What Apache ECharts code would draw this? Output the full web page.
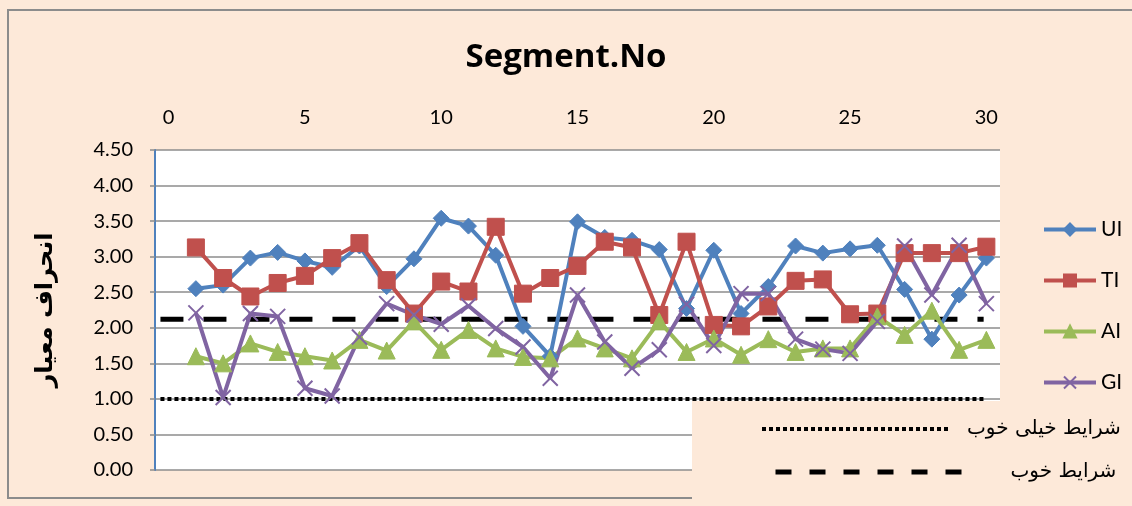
<!DOCTYPE html>
<html>
<head>
<meta charset="utf-8">
<script src="https://cdn.jsdelivr.net/npm/echarts@6/dist/echarts.min.js"></script>
<style>html,body{margin:0;padding:0;background:#fde9d9;}#c{width:1132px;height:506px;}</style>
</head>
<body>
<div id="c"></div>
<script>
var segments = [1,2,3,4,5,6,7,8,9,10,11,12,13,14,15,16,17,18,19,20,21,22,23,24,25,26,27,28,29,30];
var UI = [2.55,2.60,2.98,3.06,2.94,2.85,3.15,2.58,2.97,3.54,3.43,3.02,2.02,1.60,3.49,3.27,3.23,3.10,2.27,3.09,2.20,2.58,3.15,3.05,3.11,3.16,2.54,1.84,2.46,2.98];
var TI = [3.13,2.70,2.44,2.63,2.73,2.98,3.19,2.67,2.20,2.65,2.51,3.42,2.48,2.70,2.87,3.21,3.13,2.18,3.21,2.04,2.02,2.30,2.66,2.68,2.19,2.20,3.05,3.05,3.05,3.14];
var AI = [1.60,1.50,1.78,1.66,1.60,1.54,1.83,1.68,2.09,1.69,1.97,1.71,1.59,1.57,1.85,1.71,1.57,2.09,1.66,1.85,1.62,1.84,1.66,1.71,1.71,2.16,1.90,2.24,1.69,1.83];
var GI = [2.21,1.02,2.20,2.16,1.15,1.04,1.87,2.34,2.18,2.05,2.31,1.99,1.73,1.29,2.46,1.80,1.43,1.69,2.33,1.75,2.48,2.48,1.84,1.70,1.64,2.09,3.15,2.46,3.16,2.34];
var xTicks = [0,5,10,15,20,25,30];
var veryGoodName = 'شرایط خیلی خوب';
var goodName = 'شرایط خوب';
var veryGoodLevel = 1.00;
var goodLevel = 2.12;
var refXStart = -0.3, refXEnd = 29.9;
var yAxisTitle = 'انحراف معیار';
var chartTitle = 'Segment.No';

function pairs(vals){ return segments.map(function(s,i){ return [s, vals[i]]; }); }

var crossPath = 'path://M0,0L10,10M10,0L0,10';
var chart = echarts.init(document.getElementById('c'));
var numFont = 'Lato';
function mk(name, vals, color, symbol, size, extra){
  var s = {
    name: name, type: 'line', data: pairs(vals),
    symbol: symbol, symbolSize: size,
    lineStyle: {color: color, width: 4},
    itemStyle: {color: color, borderColor: color, borderWidth: 1},
    emphasis: {disabled: true}, animation: false, z: 3
  };
  if (extra) { for (var k in extra) s[k] = extra[k]; }
  return s;
}
var option = {
  backgroundColor: '#fde9d9',
  animation: false,
  title: {
    text: chartTitle, left: 'center', top: 36,
    textStyle: {fontFamily: 'Open Sans', fontWeight: 'bold', fontSize: 33, color: '#000'}
  },
  grid: {left: 155, right: 132, top: 150, bottom: 36, show: true, backgroundColor: '#ffffff', borderWidth: 0},
  xAxis: {
    type: 'value', position: 'top', min: -0.5, max: 30.5,
    axisLine: {show: false}, axisTick: {show: false}, splitLine: {show: false},
    axisLabel: {customValues: xTicks, margin: 22, color: '#000', fontFamily: numFont, fontSize: 20}
  },
  yAxis: {
    type: 'value', min: 0, max: 4.5, interval: 0.5,
    name: yAxisTitle, nameLocation: 'middle', nameRotate: 90, nameGap: 97,
    nameTextStyle: {fontFamily: 'DejaVu Sans', fontWeight: 'bold', fontSize: 24, color: '#000'},
    axisLine: {show: true, onZero: false, lineStyle: {color: '#4f81bd', width: 2}},
    axisTick: {show: true, length: 5, lineStyle: {color: '#8c8c8c', width: 1.5}},
    splitLine: {show: true, lineStyle: {color: '#8c8c8c', width: 1.5}},
    axisLabel: {margin: 22, color: '#000', fontFamily: numFont, fontSize: 20, formatter: function(v){ return v.toFixed(2); }}
  },
  legend: [
    {
      data: ['UI','TI','AI','GI'], orient: 'vertical', left: 1037, top: 214,
      itemWidth: 52, itemHeight: 15, itemGap: 30,
      lineStyle: {width: 4},
      textStyle: {fontFamily: numFont, fontSize: 21, color: '#000'}
    },
    {
      data: [{name: veryGoodName, itemStyle: {opacity: 0}, lineStyle: {type: [4,3], width: 4, color: '#000', cap: 'butt'}}],
      left: 755, top: 414, itemWidth: 186, itemHeight: 14,
      textStyle: {fontFamily: 'DejaVu Sans', fontSize: 20, color: '#000', padding: [8,0,0,14]}
    },
    {
      data: [{name: goodName, itemStyle: {opacity: 0}, lineStyle: {type: [16,18], width: 5, color: '#000', cap: 'butt'}}],
      left: 768, top: 457, itemWidth: 188, itemHeight: 14,
      textStyle: {fontFamily: 'DejaVu Sans', fontSize: 20, color: '#000', padding: [0,0,0,42]}
    }
  ],
  graphic: [
    {type: 'rect', z: -10, silent: true, shape: {x: 8, y: 10, width: 1140, height: 488}, style: {fill: null, stroke: '#8c8c8c', lineWidth: 2}},
    {type: 'rect', z: 3, silent: true, shape: {x: 692, y: 401, width: 460, height: 120}, style: {fill: '#fde9d9', stroke: null}}
  ],
  series: [
    {name: veryGoodName, type: 'line', data: [[refXStart, veryGoodLevel],[refXEnd, veryGoodLevel]], symbol: 'none',
     lineStyle: {color: '#000', width: 4, type: [4,3], cap: 'butt'}, itemStyle: {color: '#000'}, z: 2, animation: false},
    {name: goodName, type: 'line', data: [[refXStart, goodLevel],[refXEnd, goodLevel]], symbol: 'none',
     lineStyle: {color: '#000', width: 5, type: [23,20], cap: 'butt'}, itemStyle: {color: '#000'}, z: 2, animation: false},
    mk('UI', UI, '#4f81bd', 'diamond', 16),
    mk('TI', TI, '#c0504d', 'rect', 17),
    mk('AI', AI, '#9bbb59', 'triangle', 17),
    mk('GI', GI, '#8064a2', crossPath, 15, {itemStyle: {color: 'none', borderColor: '#8064a2', borderWidth: 2}})
  ]
};
chart.setOption(option);
</script>
</body>
</html>
